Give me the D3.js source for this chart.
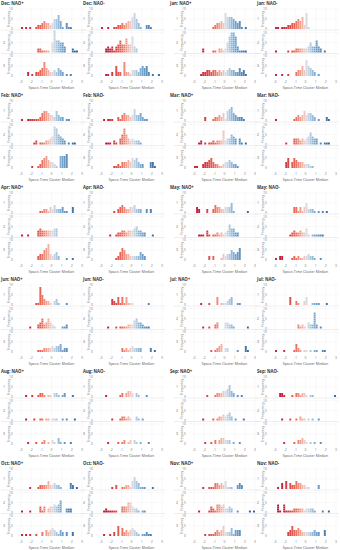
<!DOCTYPE html>
<html>
<head>
<meta charset="utf-8">
<script src="https://cdn.jsdelivr.net/npm/d3@7"></script>
<style>
  body { margin: 0; background: #fff; }
  svg { display: block; }
  text { font-family: "Open Sans", Lato, sans-serif; }
</style>
</head>
<body>
<svg id="chart" width="340" height="550"></svg>
<script>
const months = ['Dec', 'Jan', 'Feb', 'Mar', 'Apr', 'May', 'Jun', 'Jul', 'Aug', 'Sep', 'Oct', 'Nov']
const phases = ['NAO+', 'NAO-']
const clusters = ['1', '2', '3']
const xTicks = [-3, -2, -1, 0, 1, 2, 3]
const yTicks = [0, 5, 10]
const binWidth = 0.2
const binEdges = d3.range(30).map(i => -3 + i * binWidth)

/* counts per 0.2 bin, -3 .. 3, one row per cluster */
const decPos = [
  [1,0,1,0,1,0,0,1,2,2,3,4,3,3,2,3,5,5,7,4,1,0,3,1,1,0,0,0,0,0],
  [0,0,0,0,0,0,0,0,2,2,1,1,1,1,0,5,11,6,6,5,5,3,0,0,0,2,1,1,0,0],
  [0,0,0,2,0,1,0,2,2,3,4,7,4,3,2,2,3,2,4,3,2,0,1,0,1,0,0,0,0,0]
]
const decNeg = [
  [1,0,0,1,0,0,1,1,2,2,3,2,3,4,4,6,8,5,3,1,0,0,2,2,1,0,0,0,0,0],
  [0,0,2,3,2,3,1,3,4,6,4,4,7,4,4,8,3,2,0,0,0,0,0,0,0,0,0,0,0,0],
  [0,0,1,1,0,2,0,5,2,2,0,7,2,2,1,3,3,3,2,4,5,4,5,2,0,1,0,0,1,0]
]
const janPos = [
  [0,0,0,0,0,0,0,0,0,1,2,3,3,4,3,8,6,6,6,5,4,3,4,1,0,1,0,0,0,0],
  [0,0,0,0,2,0,0,0,0,1,1,0,2,2,1,2,5,8,10,10,8,3,1,1,1,1,0,0,0,0],
  [0,0,0,1,2,2,3,3,2,3,3,2,3,2,3,2,3,4,3,3,2,2,4,2,3,1,0,0,0,0]
]
const janNeg = [
  [1,1,0,1,1,1,2,2,3,3,4,5,4,6,2,8,1,0,0,0,0,0,0,0,0,0,0,0,0,0],
  [1,0,0,0,0,0,1,0,1,1,2,2,2,2,2,2,3,5,3,3,6,3,2,0,1,0,0,0,0,0],
  [1,0,0,1,0,0,1,0,0,0,2,3,3,5,3,8,5,4,3,2,0,1,0,0,0,0,0,0,0,0]
]
const febPos = [
  [1,0,0,1,1,1,1,1,1,2,4,5,5,4,3,3,2,5,3,2,2,0,1,1,0,0,0,0,0,0],
  [0,0,0,0,0,0,1,2,0,1,1,1,2,2,3,4,9,8,5,4,3,2,0,1,0,1,1,0,0,0],
  [0,0,0,0,0,1,0,0,1,2,4,5,6,4,3,3,2,1,0,6,6,6,7,0,0,0,0,0,0,0]
]
const febNeg = [
  [0,1,0,1,1,1,0,0,2,1,3,4,3,3,2,3,6,3,3,4,2,1,1,0,0,0,0,0,0,0],
  [0,0,1,1,1,0,2,1,0,3,5,8,5,3,2,3,2,2,2,1,0,0,0,0,0,0,0,0,0,0],
  [0,0,0,0,0,0,1,1,2,1,3,3,3,4,3,5,4,5,3,2,2,0,0,0,3,3,1,0,0,0]
]
const marPos = [
  [0,0,0,0,0,2,0,0,0,1,2,2,3,2,4,1,5,6,7,4,3,2,2,2,1,0,0,0,0,0],
  [0,0,1,2,0,1,0,1,1,2,1,2,2,2,7,2,3,3,5,4,3,0,3,1,0,1,0,0,0,0],
  [1,1,0,0,2,3,3,4,5,3,2,2,1,1,2,3,3,4,3,2,2,1,0,0,0,0,0,0,0,0]
]
const marNeg = [
  [1,0,0,0,0,0,0,0,0,1,2,3,2,3,5,3,4,4,3,2,0,1,0,0,0,2,1,0,0,0],
  [0,0,0,0,0,1,0,0,0,3,3,3,2,3,2,3,4,6,4,3,3,0,1,0,1,1,1,0,0,0],
  [0,0,0,0,0,3,5,0,3,5,4,3,3,3,2,2,2,1,1,0,0,0,0,0,0,0,0,0,0,0]
]
const aprPos = [
  [0,0,0,0,0,0,0,0,0,1,1,2,2,1,3,2,4,2,2,2,3,1,1,0,0,3,0,0,0,0],
  [1,0,0,1,0,0,0,0,3,4,3,3,3,3,3,3,4,4,0,0,0,0,0,0,0,0,0,0,0,0],
  [0,0,0,0,0,0,0,0,2,3,3,5,6,8,3,2,3,4,2,0,0,0,1,0,0,1,0,0,0,0]
]
const aprNeg = [
  [0,0,0,0,0,0,1,0,2,3,4,3,2,2,3,3,4,2,2,2,0,0,2,0,2,0,0,0,0,0],
  [0,0,0,0,1,0,0,1,2,2,3,3,2,3,3,3,4,5,3,3,2,2,0,0,0,1,0,0,0,0],
  [0,0,0,0,0,0,0,1,2,4,6,5,3,3,2,2,2,2,2,4,3,2,0,0,0,0,0,0,0,0]
]
const mayPos = [
  [0,3,2,0,0,0,2,0,0,2,4,3,3,2,2,3,3,3,5,1,0,0,0,0,0,0,1,0,0,0],
  [0,0,1,1,1,0,3,1,0,1,1,2,1,2,1,2,3,6,4,4,2,2,0,0,0,0,0,0,0,0],
  [0,0,0,0,0,0,0,2,0,2,0,0,0,1,3,2,3,3,5,4,3,4,6,0,0,0,0,0,0,0]
]
const mayNeg = [
  [0,0,0,0,0,0,0,0,0,3,3,1,3,1,3,5,2,2,2,1,0,1,0,1,0,1,0,0,0,0],
  [0,0,0,0,0,0,0,1,2,3,2,2,3,2,2,4,1,0,1,1,1,1,1,1,0,0,0,0,0,0],
  [1,0,2,2,0,0,0,0,1,2,1,2,1,1,2,2,3,2,2,1,0,0,1,0,0,0,0,0,0,0]
]
const junPos = [
  [0,0,0,0,0,0,0,1,1,9,5,3,2,2,1,0,2,3,1,0,0,0,1,0,0,0,0,0,0,0],
  [0,0,0,0,1,0,0,0,2,3,5,2,3,5,3,2,1,0,0,0,1,1,2,0,0,0,0,0,0,0],
  [0,0,0,0,0,0,0,0,1,1,1,2,2,2,2,3,2,3,3,4,1,2,2,0,0,0,0,0,0,0]
]
const junNeg = [
  [0,0,0,0,0,3,2,1,4,1,4,1,4,1,1,1,0,0,0,0,0,0,0,1,0,0,0,0,0,0],
  [0,0,0,1,0,0,0,1,0,1,1,1,1,2,2,2,4,5,3,3,2,1,1,1,0,0,0,0,0,0],
  [0,0,0,0,0,0,0,0,0,0,2,1,2,1,2,3,2,2,2,2,0,0,0,0,2,0,1,0,0,0]
]
const julPos = [
  [0,0,0,1,0,0,0,1,0,0,0,4,0,1,1,1,2,3,4,0,0,1,1,0,0,0,0,0,0,0],
  [0,0,0,0,1,0,0,1,0,0,2,3,0,0,0,3,3,2,2,1,0,0,0,0,0,0,1,0,0,0],
  [0,0,0,0,0,0,0,0,1,0,1,2,3,4,0,2,2,0,0,0,0,1,0,0,0,3,1,0,0,0]
]
const julNeg = [
  [0,0,0,0,0,0,0,4,0,0,2,1,0,0,2,4,0,0,1,1,1,1,0,0,0,1,0,0,0,0],
  [0,0,0,0,0,0,0,0,0,0,0,2,1,2,1,0,3,2,2,8,2,0,1,0,0,0,0,0,0,0],
  [1,0,0,0,1,0,0,0,0,1,4,2,1,0,1,1,0,1,0,1,1,0,0,1,1,0,0,0,0,0]
]
const augPos = [
  [0,0,1,0,0,1,0,0,1,2,2,1,0,1,1,0,2,2,1,0,1,2,0,0,0,1,0,0,0,0],
  [0,0,1,0,0,0,1,0,0,1,1,0,1,1,0,1,1,1,0,0,1,0,1,0,0,0,1,0,0,0],
  [0,0,0,1,0,0,0,1,0,0,1,2,0,1,0,2,1,0,3,1,0,1,0,0,1,0,0,0,0,0]
]
const augNeg = [
  [0,0,1,0,0,0,0,0,0,1,2,0,2,3,3,2,0,2,1,0,0,0,1,0,0,0,0,0,0,0],
  [0,0,0,0,0,1,0,0,0,1,2,2,1,2,1,0,0,2,1,0,1,0,0,0,0,0,0,0,0,0],
  [0,0,0,1,0,0,0,0,1,0,1,2,0,1,2,0,2,1,0,1,0,0,0,1,0,0,0,0,0,0]
]
const sepPos = [
  [0,0,0,0,0,0,1,0,0,0,1,2,2,2,3,3,4,6,3,2,0,1,0,1,0,0,0,0,0,0],
  [0,0,0,0,1,0,0,0,0,1,0,1,2,2,3,2,3,4,2,0,1,0,0,0,1,0,0,0,0,0],
  [0,0,0,0,0,1,0,0,1,0,2,0,2,3,3,2,2,2,0,1,0,0,1,0,0,0,0,0,0,0]
]
const sepNeg = [
  [0,0,2,2,1,0,0,0,1,0,2,2,1,2,2,1,0,1,1,0,0,0,0,0,0,0,0,0,0,1],
  [0,0,0,1,0,0,0,1,0,0,1,0,2,1,1,0,1,0,1,0,0,1,0,0,0,0,0,0,0,0],
  [0,0,0,0,1,0,0,0,0,1,0,2,2,3,2,1,0,1,0,1,0,0,1,0,0,0,0,0,0,0]
]
const octPos = [
  [0,0,0,0,1,0,0,0,1,2,2,2,2,4,2,2,3,2,2,1,0,0,0,0,3,2,0,1,0,0],
  [1,0,0,0,1,0,0,0,0,3,1,3,0,2,3,3,4,3,4,6,0,0,2,2,2,0,0,0,0,0],
  [1,0,1,0,1,0,0,1,0,0,2,0,3,2,3,4,3,2,1,3,2,0,2,0,0,2,0,0,0,0]
]
const octNeg = [
  [0,0,0,0,0,1,0,2,0,0,1,1,2,2,1,4,6,4,3,1,1,1,0,0,0,1,0,0,0,0],
  [0,1,2,1,1,1,1,1,0,0,3,3,3,5,5,3,2,2,1,0,1,1,0,0,0,0,0,0,0,0],
  [0,1,0,0,1,0,2,0,5,0,4,2,3,2,3,4,3,2,1,0,1,1,2,1,1,0,0,0,0,0]
]
const novPos = [
  [0,0,0,0,1,0,0,1,1,1,3,3,2,3,2,4,1,1,1,0,0,2,3,2,0,0,0,0,0,0],
  [0,0,1,0,0,0,0,1,3,2,1,4,4,3,4,2,2,3,2,0,0,1,0,0,0,0,0,1,0,1],
  [0,0,0,0,0,1,0,1,1,1,2,3,2,3,5,2,2,2,4,1,3,3,3,0,0,0,0,0,0,0]
]
const novNeg = [
  [0,1,0,3,0,4,0,3,2,2,4,3,3,2,2,1,1,0,0,0,0,2,0,0,0,0,0,0,0,0],
  [0,4,1,0,4,1,1,1,1,2,2,2,2,2,1,2,2,2,2,1,0,0,0,1,0,0,1,0,0,0],
  [0,0,0,0,0,0,2,3,5,3,3,4,3,2,2,2,2,2,2,3,2,2,0,0,3,0,0,0,0,0]
]

const counts = {
  Dec: [decPos, decNeg], Jan: [janPos, janNeg], Feb: [febPos, febNeg],
  Mar: [marPos, marNeg], Apr: [aprPos, aprNeg], May: [mayPos, mayNeg],
  Jun: [junPos, junNeg], Jul: [julPos, julNeg], Aug: [augPos, augNeg],
  Sep: [sepPos, sepNeg], Oct: [octPos, octNeg], Nov: [novPos, novNeg]
}

const svg = d3.select('#chart')

/* panel geometry */
const plotLeft = [21, 101, 194, 275]
const titleX = [1, 83, 170, 257]
const plotW = 61
const panelH = 92
const rowPitch = 23.5

const color = d3.scaleLinear()
  .domain([-2.4, -1, -0.15, 0.15, 1, 2.4])
  .range(['#bd0f2f', '#ea5f4b', '#f4bfb0', '#d0dce9', '#6aa0ce', '#2a5d93'])
  .clamp(true)

months.forEach((month, mi) => {
  const top = Math.floor(mi / 2) * panelH
  phases.forEach((phase, pi) => {
    const col = (mi % 2) * 2 + pi
    const x0 = plotLeft[col]
    const x = d3.scaleLinear().domain([-3, 3]).range([x0, x0 + plotW])
    const g = svg.append('g')

    g.append('text')
      .attr('x', titleX[col]).attr('y', top + 4.6)
      .attr('font-size', 4.3).attr('font-weight', 700).attr('fill', '#333')
      .text(`${month}: ${phase}`)

    counts[month][pi].forEach((row, ri) => {
      const base = top + 29 + ri * rowPitch
      const y = d3.scaleLinear().domain([0, 10]).range([base, base - 20])

      /* grid */
      g.selectAll(null).data(xTicks).enter().append('line')
        .attr('x1', d => x(d)).attr('x2', d => x(d))
        .attr('y1', base - 22).attr('y2', base + 1.5)
        .attr('stroke', '#efefef').attr('stroke-width', 0.4)
      g.selectAll(null).data(yTicks.slice(1)).enter().append('line')
        .attr('x1', x0 - 6).attr('x2', x0 + plotW + 3)
        .attr('y1', d => y(d)).attr('y2', d => y(d))
        .attr('stroke', '#efefef').attr('stroke-width', 0.4)
      if (ri > 0) {
        g.append('line')
          .attr('x1', x0 - 20).attr('x2', x0 + plotW + 3)
          .attr('y1', base - 22.5).attr('y2', base - 22.5)
          .attr('stroke', '#dddddd').attr('stroke-width', 0.5)
      }

      /* y axis */
      g.selectAll(null).data(yTicks).enter().append('text')
        .attr('x', x0 - 8).attr('y', d => y(d) + 1.2)
        .attr('text-anchor', 'end').attr('font-size', 3.4).attr('fill', '#777')
        .text(d => d)
      g.append('text')
        .attr('transform', `translate(${x0 - 11.2},${base - 10}) rotate(-90)`)
        .attr('text-anchor', 'middle').attr('font-size', 3.4).attr('fill', '#777')
        .text('Frequency')
      g.append('text')
        .attr('x', x0 - 17).attr('y', base - 8.8)
        .attr('text-anchor', 'middle').attr('font-size', 3.6).attr('fill', '#666')
        .text(clusters[ri])

      /* stacked unit tiles */
      const tiles = []
      row.forEach((n, bi) => {
        for (let k = 0; k < n; k++) tiles.push({ edge: binEdges[bi], k })
      })
      g.selectAll(null).data(tiles).enter().append('rect')
        .attr('x', d => x(d.edge))
        .attr('width', x(binWidth) - x(0))
        .attr('y', d => y(d.k + 1))
        .attr('height', y(0) - y(1))
        .attr('fill', d => color(d.edge + binWidth / 2))
        .attr('stroke', '#fff').attr('stroke-width', 0.15).attr('stroke-opacity', 0.8)
    })

    /* x axis */
    const axisY = top + 83.4
    g.selectAll(null).data(xTicks).enter().append('text')
      .attr('x', d => x(d)).attr('y', axisY)
      .attr('text-anchor', 'middle').attr('font-size', 3.4).attr('fill', '#777')
      .text(d => d)
    g.append('text')
      .attr('x', x0 + plotW / 2).attr('y', top + 88.6)
      .attr('text-anchor', 'middle').attr('font-size', 3.6).attr('fill', '#555')
      .text('Space-Time Cluster Median')
  })
})
</script>
</body>
</html>
